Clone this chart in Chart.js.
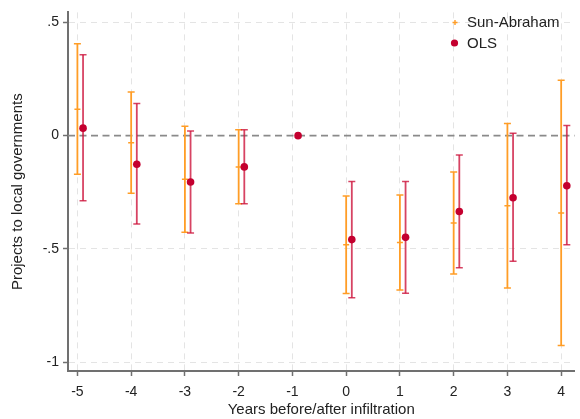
<!DOCTYPE html>
<html>
<head>
<meta charset="utf-8">
<script src="https://cdn.jsdelivr.net/npm/chart.js@4.4.0/dist/chart.umd.min.js"></script>
<style>
  body { margin: 0; background: #fff; }
  #wrap { width: 580px; height: 419px; }
</style>
</head>
<body>
<div id="wrap"><canvas id="myChart" width="580" height="419"></canvas></div>
<script>
// event-study estimates
const years = [-5, -4, -3, -2, -1, 0, 1, 2, 3, 4];
const yTicks = [0.5, 0, -0.5, -1];
const yTickLabels = ['.5', '0', '-.5', '-1'];

const saCoef = [0.117, -0.031, -0.193, -0.138, null, -0.482, -0.472, -0.386, -0.309, -0.341];
const saLow  = [-0.171, -0.254, -0.427, -0.301, null, -0.697, -0.681, -0.611, -0.673, -0.926];
const saHigh = [0.406, 0.193, 0.041, 0.026, null, -0.266, -0.262, -0.160, 0.054, 0.244];

const olsCoef = [0.033, -0.126, -0.205, -0.138, 0, -0.459, -0.449, -0.335, -0.274, -0.221];
const olsLow  = [-0.288, -0.390, -0.430, -0.301, null, -0.716, -0.696, -0.583, -0.554, -0.482];
const olsHigh = [0.357, 0.142, 0.020, 0.026, null, -0.203, -0.202, -0.085, 0.010, 0.045];

const olsShift = 0.105;

const ORANGE = '#ff9d26';
const RED = '#c4002f';
const RED_BAR = 'rgba(205, 20, 60, 0.8)';
const AXIS = '#707070';
const FONT = "'Liberation Sans', Arial, sans-serif";

function points(coef, shift){
    return years.map((x, i) => ({x: x + shift, y: coef[i]}));
}

// low/high pairs broken by a gap so each year is its own segment
function whiskers(low, high, shift){
    let out = [];
    years.forEach((x, i) => {
        if(low[i] === null) return;
        out.push({x: x + shift, y: low[i]});
        out.push({x: x + shift, y: high[i]});
        out.push({x: x + shift, y: null});
    });
    return out;
}

const zeroLine = {
    id: 'zeroLine',
    beforeDatasetsDraw(chart){
        const {ctx, chartArea, scales} = chart;
        const y = scales.y.getPixelForValue(0);
        ctx.save();
        ctx.strokeStyle = '#8a8a8a';
        ctx.lineWidth = 1.8;
        ctx.setLineDash([7, 4.5]);
        ctx.beginPath();
        ctx.moveTo(chartArea.left, y);
        ctx.lineTo(chartArea.right, y);
        ctx.stroke();
        ctx.restore();
    }
};

const legendBox = {
    id: 'legendBox',
    afterDraw(chart){
        const ctx = chart.ctx;
        ctx.save();
        ctx.font = '15px ' + FONT;
        ctx.fillStyle = '#222';
        ctx.textBaseline = 'middle';
        ctx.fillText('Sun-Abraham', 467, 23);
        ctx.fillText('OLS', 467, 44);
        ctx.strokeStyle = ORANGE;
        ctx.lineWidth = 1.4;
        ctx.beginPath();
        ctx.moveTo(452.5, 22.5); ctx.lineTo(457.5, 22.5);
        ctx.moveTo(455, 20); ctx.lineTo(455, 25);
        ctx.stroke();
        ctx.fillStyle = RED;
        ctx.beginPath();
        ctx.arc(454.5, 43, 3.6, 0, Math.PI * 2);
        ctx.fill();
        ctx.restore();
    }
};

const ctx = document.getElementById('myChart').getContext('2d');
const myChart = new Chart(ctx, {
    type: 'scatter',
    data: {
        datasets: [
            {
                label: 'OLS',
                data: points(olsCoef, olsShift),
                pointStyle: 'circle',
                pointRadius: 3.8,
                backgroundColor: RED,
                borderWidth: 0,
                order: 0
            },
            {
                label: 'Sun-Abraham',
                data: points(saCoef, 0),
                pointStyle: 'line',
                pointRadius: 3,
                borderColor: ORANGE,
                borderWidth: 1.5,
                order: 1
            },
            {
                label: 'OLS CI',
                data: whiskers(olsLow, olsHigh, olsShift),
                showLine: true,
                spanGaps: false,
                borderColor: RED_BAR,
                borderWidth: 1.8,
                pointStyle: 'line',
                pointRadius: 3.5,
                pointBorderWidth: 1.5,
                order: 2
            },
            {
                label: 'Sun-Abraham CI',
                data: whiskers(saLow, saHigh, 0),
                showLine: true,
                spanGaps: false,
                borderColor: ORANGE,
                borderWidth: 1.8,
                pointStyle: 'line',
                pointRadius: 3.5,
                pointBorderWidth: 1.5,
                order: 3
            }
        ]
    },
    plugins: [zeroLine, legendBox],
    options: {
        responsive: false,
        animation: false,
        devicePixelRatio: 1,
        layout: { padding: { top: 10, right: 0, bottom: 0, left: 0 } },
        plugins: {
            legend: { display: false },
            tooltip: { enabled: false }
        },
        scales: {
            x: {
                type: 'linear',
                min: -5.175,
                max: 4.248,
                afterBuildTicks: (scale) => { scale.ticks = years.map(v => ({value: v})); },
                afterFit: (scale) => { scale.height = 48; },
                ticks: {
                    color: '#222',
                    font: { family: FONT, size: 14 },
                    padding: 8,
                    maxRotation: 0,
                    callback: (v) => String(v)
                },
                grid: {
                    color: '#e4e4e4',
                    lineWidth: 1,
                    tickColor: AXIS,
                    tickLength: 5,
                    tickWidth: 1.5
                },
                border: { display: true, color: AXIS, width: 2, dash: [6, 5] },
                title: {
                    display: true,
                    text: 'Years before/after infiltration',
                    color: '#222',
                    font: { family: FONT, size: 15 },
                    padding: { top: 0, bottom: 0 }
                }
            },
            y: {
                min: -1.039,
                max: 0.544,
                afterBuildTicks: (scale) => { scale.ticks = yTicks.map(v => ({value: v})); },
                afterFit: (scale) => { scale.width = 68; },
                ticks: {
                    color: '#222',
                    font: { family: FONT, size: 14 },
                    padding: 4,
                    callback: (v) => yTickLabels[yTicks.indexOf(v)]
                },
                grid: {
                    color: (c) => c.tick && c.tick.value === 0 ? 'rgba(0,0,0,0)' : '#e4e4e4',
                    lineWidth: 1,
                    tickColor: AXIS,
                    tickLength: 5,
                    tickWidth: 1.5
                },
                border: { display: true, color: AXIS, width: 2, dash: [6, 5] },
                title: {
                    display: true,
                    text: 'Projects to local governments',
                    color: '#222',
                    font: { family: FONT, size: 15 },
                    padding: { top: 9, bottom: 0 }
                }
            }
        }
    }
});
</script>
</body>
</html>
